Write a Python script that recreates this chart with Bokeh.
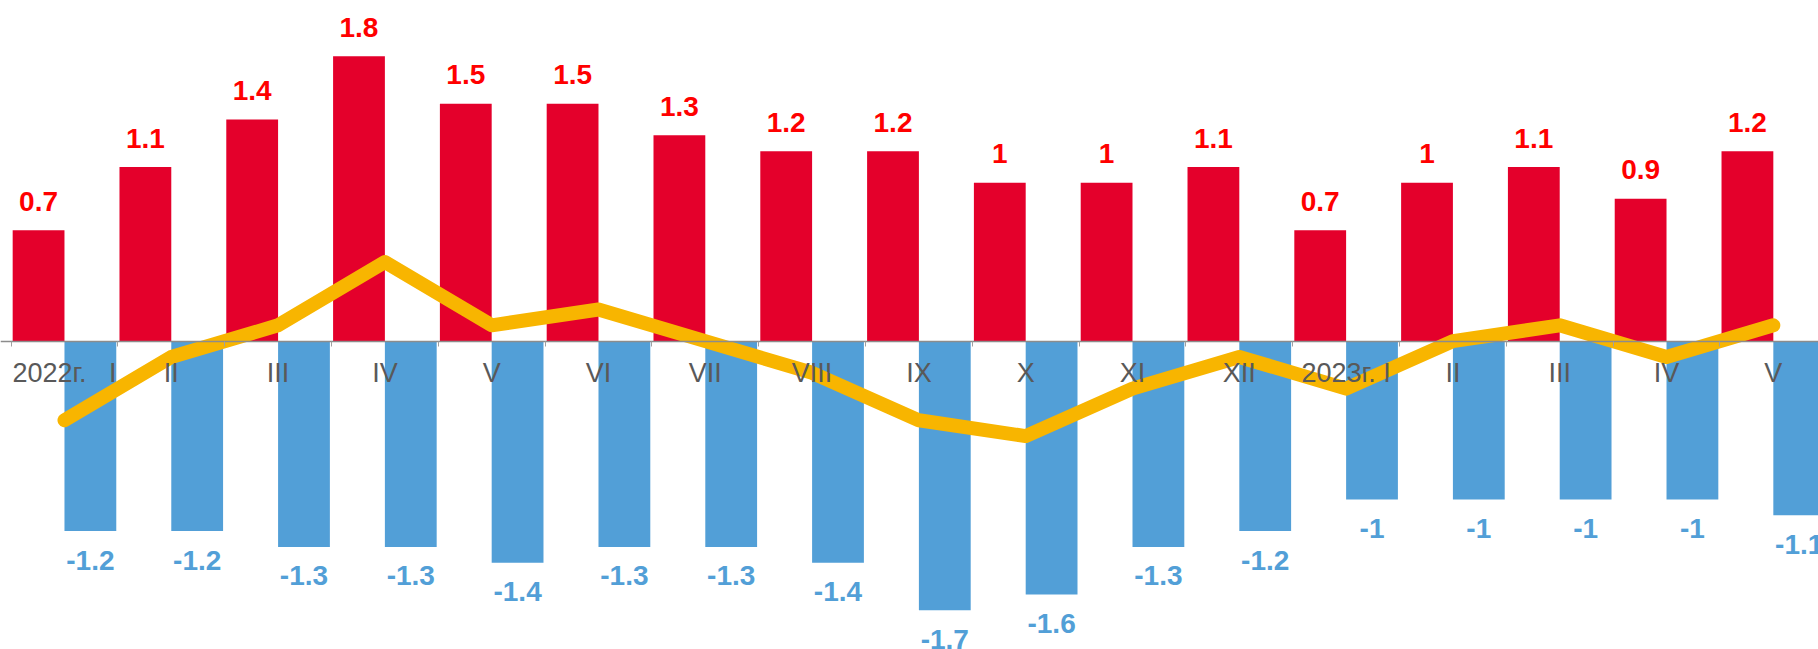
from bokeh.plotting import figure
from bokeh.models import ColumnDataSource, Range1d, FixedTicker
from bokeh.core.properties import value
from bokeh.embed import file_html
from bokeh.resources import INLINE

categories = ["2022г.\u00a0\u00a0\u00a0I", "II", "III", "IV", "V", "VI", "VII", "VIII", "IX", "X",
              "XI", "XII", "2023г. I", "II", "III", "IV", "V"]
positive = [0.7, 1.1, 1.4, 1.8, 1.5, 1.5, 1.3, 1.2, 1.2, 1.0, 1.0, 1.1, 0.7, 1.0, 1.1, 0.9, 1.2]
negative = [-1.2, -1.2, -1.3, -1.3, -1.4, -1.3, -1.3, -1.4, -1.7, -1.6, -1.3, -1.2, -1.0, -1.0, -1.0, -1.0, -1.1]
net = [-0.5, -0.1, 0.1, 0.5, 0.1, 0.2, 0.0, -0.2, -0.5, -0.6, -0.3, -0.1, -0.3, 0.0, 0.1, -0.1, 0.1]

RED = "#E4002B"
BLUE = "#529FD7"
YELLOW = "#F8B500"
RED_TXT = "#FF0000"
GRAY_TXT = "#595959"

BW = 0.485
xs = list(range(len(categories)))


def fmt(v):
    return f"{v:g}"


src = ColumnDataSource(dict(
    x=xs,
    xr=[x - BW / 2 for x in xs],
    xb=[x + BW / 2 for x in xs],
    pos=positive,
    neg=negative,
    net=net,
    pos_lbl=[fmt(v) for v in positive],
    neg_lbl=[fmt(v) for v in negative],
))

p = figure(width=1818, height=649,
           x_range=Range1d(-0.599, 16.423), y_range=Range1d(-1.948, 2.152),
           output_backend="svg", toolbar_location=None, y_axis_location=None,
           min_border=0)
p.min_border_left = 0
p.min_border_right = 0
p.min_border_top = 0
p.min_border_bottom = 0
p.outline_line_color = None
p.xgrid.visible = False
p.ygrid.visible = False
p.background_fill_color = "white"
p.border_fill_color = "white"

p.vbar(x="xr", top="pos", bottom=0, width=BW, source=src, fill_color=RED, line_color=None)
p.vbar(x="xb", top=0, bottom="neg", width=BW, source=src, fill_color=BLUE, line_color=None)

p.line(x="x", y="net", source=src, line_color=YELLOW, line_width=14,
       line_cap="round", line_join="round")

p.text(x="xr", y="pos", text="pos_lbl", source=src, text_align="center",
       text_baseline="alphabetic", y_offset=-29, text_color=RED_TXT,
       text_font=value("Liberation Sans"), text_font_style="bold", text_font_size="28px")
p.text(x="xb", y="neg", text="neg_lbl", source=src, text_align="center",
       text_baseline="alphabetic", y_offset=29, text_color=BLUE,
       text_font=value("Liberation Sans"), text_font_style="bold", text_font_size="28px")

ax = p.xaxis[0]
ax.fixed_location = 0
ax.ticker = FixedTicker(ticks=xs, minor_ticks=[x - 0.5 for x in xs] + [xs[-1] + 0.5])
ax.major_label_overrides = {x: c for x, c in zip(xs, categories)}
ax.major_tick_line_color = None
ax.major_tick_out = 0
ax.major_tick_in = 0
ax.minor_tick_line_color = "#A0A0A0"
ax.minor_tick_out = 5
ax.minor_tick_in = 0
ax.axis_line_color = "#8C8C8C"
ax.axis_line_width = 1.5
ax.major_label_standoff = 12
ax.major_label_text_font = "Liberation Sans"
ax.major_label_text_font_size = "27px"
ax.major_label_text_color = GRAY_TXT

open("out.html", "w").write(file_html(p, INLINE))
